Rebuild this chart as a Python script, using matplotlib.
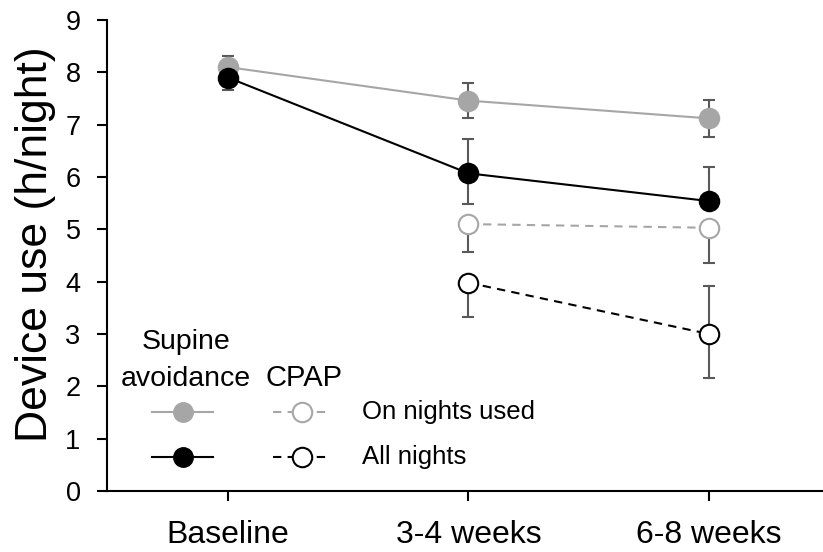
import matplotlib
matplotlib.use("Agg")
import matplotlib.pyplot as plt
from matplotlib.lines import Line2D
import numpy as np

plt.rcParams["font.family"] = ["Liberation Sans", "DejaVu Sans"]

TIMEPOINTS = ["Baseline", "3-4 weeks", "6-8 weeks"]

# supine avoidance device (mean, lower / upper error)
SUP_USED = [8.10, 7.46, 7.12]
SUP_USED_LO = [0.21, 0.33, 0.36]
SUP_USED_HI = [0.21, 0.33, 0.36]
SUP_ALL = [7.90, 6.07, 5.54]
SUP_ALL_LO = [0.23, 0.59, 0.0]
SUP_ALL_HI = [0.23, 0.65, 0.65]

# CPAP (no baseline value); some bars shown one-sided only
CPAP_USED = [np.nan, 5.10, 5.03]
CPAP_USED_LO = [np.nan, 0.53, 0.67]
CPAP_USED_HI = [np.nan, 0.0, 0.0]
CPAP_ALL = [np.nan, 3.98, 3.00]
CPAP_ALL_LO = [np.nan, 0.66, 0.85]
CPAP_ALL_HI = [np.nan, 0.0, 0.92]

GREY = "#a6a6a6"
ERR_C = "#595959"
MS = 14


def draw_series(ax, x, y, lo, hi, color, face, ls):
    ax.errorbar(x, y, yerr=[lo, hi], fmt="none", ecolor=ERR_C,
                elinewidth=1.5, capsize=4, capthick=1.5, zorder=2)
    ax.plot(x, y, color=color, lw=1.5, ls=ls, zorder=3)
    ax.plot(x, y, ls="none", marker="o", ms=MS, mfc=face, mec=color,
            mew=1.5, zorder=4)


def main() -> None:
    fig = plt.figure(figsize=(8.23, 5.52), dpi=100)
    ax = fig.add_axes([107 / 823, 1 - 491 / 552, 716 / 823, 471 / 552])
    x = np.arange(len(TIMEPOINTS))

    draw_series(ax, x, SUP_USED, SUP_USED_LO, SUP_USED_HI, GREY, GREY, "-")
    draw_series(ax, x, SUP_ALL, SUP_ALL_LO, SUP_ALL_HI, "black", "black", "-")
    draw_series(ax, x, CPAP_USED, CPAP_USED_LO, CPAP_USED_HI, GREY, "white",
                (0, (4, 3)))
    draw_series(ax, x, CPAP_ALL, CPAP_ALL_LO, CPAP_ALL_HI, "black", "white",
                (0, (4, 3)))

    ax.set_xlim(-0.503, 2.474)
    ax.set_ylim(0, 9)
    ax.set_yticks(range(10))
    ax.set_xticks(x)
    ax.set_xticklabels(TIMEPOINTS)
    for s in ("top", "right"):
        ax.spines[s].set_visible(False)
    ax.spines["left"].set_linewidth(1.5)
    ax.spines["bottom"].set_linewidth(1.5)
    ax.tick_params(axis="y", labelsize=19.5, length=7, width=1.5, pad=12)
    ax.tick_params(axis="x", labelsize=23, length=7, width=1.5, pad=14)
    fig.text(36 / 823, 1 - 244 / 552, "Device use (h/night)", rotation=90,
             ha="center", va="center", fontsize=32)

    # hand-built legend: two marker columns, labels on the right
    tr = ax.transAxes
    ax.text(0.110, 0.3015, "Supine", transform=tr, ha="center",
            va="baseline", fontsize=20.5)
    ax.text(0.110, 0.2229, "avoidance", transform=tr, ha="center",
            va="baseline", fontsize=20.5)
    ax.text(0.2751, 0.2229, "CPAP", transform=tr, ha="center",
            va="baseline", fontsize=21)
    rows = [(0.1684, GREY, "On nights used"), (0.0728, "black", "All nights")]
    for yy, c, lab in rows:
        ax.add_line(Line2D([0.0628, 0.1480], [yy, yy], transform=tr,
                           color=c, lw=1.5))
        ax.add_line(Line2D([0.1061], [yy], transform=tr, ls="none",
                           marker="o", ms=MS, mfc=c, mec=c))
        ax.add_line(Line2D([0.2318, 0.3115], [yy, yy], transform=tr,
                           color=c, lw=1.5, ls=(0, (4, 3))))
        ax.add_line(Line2D([0.2719], [yy], transform=tr, ls="none",
                           marker="o", ms=MS, mfc="white", mec=c, mew=1.5))
        ax.text(0.3561, yy, lab, transform=tr, ha="left", va="center",
                fontsize=18.5)

    fig.savefig("out.png", dpi=100)
    plt.close(fig)


if __name__ == "__main__":
    main()
